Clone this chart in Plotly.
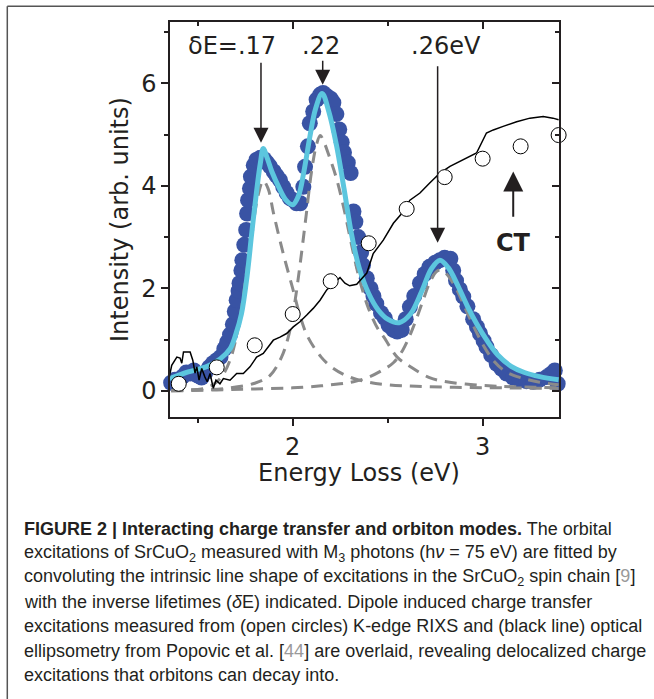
import plotly.graph_objects as go

# ---------------- data ----------------
# RIXS data (blue filled circles)
rixs_x = [1.36, 1.38, 1.40, 1.42, 1.44, 1.46, 1.48, 1.50, 1.52, 1.54, 1.56, 1.58, 1.60, 1.62, 1.64,
          1.655, 1.67, 1.685, 1.695, 1.705, 1.715, 1.72, 1.73, 1.735, 1.745, 1.755, 1.76, 1.765, 1.775,
          1.78, 1.795, 1.81, 1.83, 1.85, 1.865, 1.88, 1.90, 1.915, 1.933, 1.95, 1.968, 1.985, 2.003,
          2.02, 2.04, 2.056, 2.065, 2.08, 2.09, 2.108, 2.126, 2.145, 2.16, 2.18, 2.20, 2.214, 2.23,
          2.245, 2.258, 2.27, 2.29, 2.305, 2.32, 2.33, 2.345, 2.36, 2.37, 2.39, 2.41, 2.425, 2.44,
          2.465, 2.485, 2.505, 2.53, 2.55, 2.574, 2.595, 2.617, 2.64, 2.67, 2.695, 2.72, 2.75, 2.775,
          2.80, 2.83, 2.845, 2.86, 2.88, 2.898, 2.92, 2.95, 2.97, 2.986, 3.005, 3.02, 3.045, 3.074,
          3.10, 3.126, 3.16, 3.196, 3.23, 3.266, 3.30, 3.337, 3.36, 3.38, 3.395]
rixs_y = [0.16, 0.22, 0.20, 0.28, 0.36, 0.34, 0.40, 0.30, 0.26, 0.36, 0.46, 0.54, 0.60, 0.66, 0.82,
          0.95, 1.10, 1.30, 1.55, 1.77, 1.95, 2.10, 2.35, 2.55, 2.85, 3.14, 3.46, 3.72, 3.95,
          4.18, 4.40, 4.51, 4.55, 4.52, 4.45, 4.38, 4.28, 4.20, 4.11, 3.98, 3.86, 3.76, 3.72,
          3.66, 3.66, 3.98, 4.37, 4.77, 5.22, 5.45, 5.68, 5.78, 5.81, 5.75, 5.70, 5.62, 5.40,
          5.10, 4.85, 4.65, 4.45, 4.25, 3.50, 3.30, 3.00, 2.70, 2.45, 2.20, 2.00, 1.85, 1.70,
          1.52, 1.42, 1.28, 1.19, 1.16, 1.19, 1.40, 1.64, 1.85, 2.10, 2.28, 2.42, 2.50, 2.55,
          2.60, 2.58, 2.35, 2.15, 1.98, 1.84, 1.65, 1.40, 1.25, 1.12, 0.98, 0.86, 0.70, 0.53,
          0.43, 0.34, 0.26, 0.21, 0.19, 0.18, 0.22, 0.27, 0.33, 0.40, 0.14]

# total fit (cyan line)
fit_x = [1.352, 1.45, 1.55, 1.62, 1.67, 1.70, 1.73, 1.76, 1.785, 1.81, 1.83, 1.845, 1.865, 1.89,
         1.93, 1.965, 2.00, 2.03, 2.06, 2.09, 2.12, 2.155, 2.19, 2.23, 2.27, 2.31, 2.35, 2.40,
         2.45, 2.50, 2.56, 2.62, 2.68, 2.73, 2.775, 2.82, 2.87, 2.92, 2.97, 3.02, 3.08, 3.15,
         3.22, 3.30, 3.40]
fit_y = [0.24, 0.37, 0.48, 0.63, 0.82, 1.10, 1.50, 2.25, 3.10, 3.90, 4.45, 4.73, 4.55, 4.28,
         3.95, 3.72, 3.63, 3.80, 4.30, 4.95, 5.50, 5.80, 5.45, 4.80, 3.95, 3.05, 2.40, 1.90,
         1.58, 1.40, 1.33, 1.50, 1.95, 2.38, 2.55, 2.40, 2.05, 1.65, 1.30, 1.00, 0.70, 0.48,
         0.36, 0.28, 0.22]

# fit components (gray dashed)
compA_x = [1.36, 1.45, 1.52, 1.58, 1.63, 1.67, 1.70, 1.73, 1.76, 1.79, 1.82, 1.845, 1.87, 1.90,
           1.95, 2.00, 2.04, 2.08, 2.15, 2.21, 2.30, 2.40, 2.50, 2.65, 2.85, 3.10, 3.40]
compA_y = [0.01, 0.02, 0.04, 0.12, 0.30, 0.60, 1.00, 1.60, 2.40, 3.20, 3.85, 4.10, 3.95, 3.45,
           2.68, 2.00, 1.45, 1.05, 0.66, 0.45, 0.27, 0.17, 0.12, 0.09, 0.07, 0.06, 0.05]
compB_x = [1.36, 1.50, 1.65, 1.80, 1.88, 1.94, 1.98, 2.01, 2.04, 2.07, 2.10, 2.125, 2.145, 2.165,
           2.19, 2.23, 2.27, 2.31, 2.35, 2.40, 2.45, 2.48, 2.55, 2.62, 2.72, 2.81, 2.95, 3.10, 3.40]
compB_y = [0.01, 0.02, 0.05, 0.15, 0.30, 0.65, 1.10, 1.70, 2.50, 3.40, 4.30, 4.80, 4.98, 4.85,
           4.60, 4.15, 3.55, 2.85, 2.20, 1.60, 1.20, 1.05, 0.66, 0.47, 0.26, 0.18, 0.12, 0.09, 0.06]
compC_x = [1.36, 1.60, 1.80, 2.00, 2.15, 2.25, 2.32, 2.40, 2.47, 2.53, 2.58, 2.63, 2.68, 2.72,
           2.755, 2.78, 2.81, 2.86, 2.91, 2.96, 3.01, 3.06, 3.12, 3.20, 3.30, 3.40]
compC_y = [0.00, 0.02, 0.04, 0.06, 0.10, 0.14, 0.18, 0.27, 0.40, 0.55, 0.80, 1.20, 1.70, 2.10,
           2.32, 2.36, 2.28, 2.00, 1.60, 1.20, 0.85, 0.58, 0.38, 0.26, 0.17, 0.12]

# K-edge RIXS (open circles)
kedge_x = [1.40, 1.60, 1.80, 2.00, 2.20, 2.40, 2.60, 2.80, 3.00, 3.20, 3.40]
kedge_y = [0.14, 0.46, 0.89, 1.50, 2.14, 2.88, 3.55, 4.17, 4.53, 4.77, 4.99]

# optical ellipsometry (black line)
opt_x = [1.35, 1.363, 1.39, 1.407, 1.416, 1.425, 1.46, 1.474, 1.486, 1.495, 1.507, 1.521, 1.538,
         1.55, 1.565, 1.582, 1.596, 1.617, 1.635, 1.67, 1.705, 1.74, 1.775, 1.81, 1.845, 1.87,
         1.898, 1.933, 1.968, 2.003, 2.038, 2.074, 2.108, 2.144, 2.179, 2.214, 2.249, 2.275,
         2.30, 2.337, 2.372, 2.39, 2.424, 2.477, 2.53, 2.574, 2.617, 2.67, 2.72, 2.775, 2.828,
         2.898, 2.968, 3.02, 3.056, 3.108, 3.179, 3.249, 3.319, 3.37, 3.40]
opt_y = [0.27, 0.50, 0.66, 0.64, 0.54, 0.76, 0.76, 0.60, 0.35, 0.47, 0.21, 0.44, 0.27,
         0.18, 0.34, 0.05, 0.21, 0.14, 0.24, 0.21, 0.34, 0.34, 0.47, 0.66, 0.73, 0.86,
         0.99, 1.05, 1.12, 1.25, 1.35, 1.48, 1.61, 1.77, 1.97, 2.10, 2.21, 2.10,
         2.05, 2.08, 2.23, 2.30, 2.68, 2.94, 3.27, 3.46, 3.72, 3.86, 4.05, 4.25, 4.38,
         4.51, 4.64, 5.03, 5.09, 5.16, 5.25, 5.32, 5.35, 5.32, 5.29]

x_ticks = [2, 3]
y_ticks = [0, 2, 4, 6]
x_range = [1.354, 3.402]
y_range = [-0.508, 7.195]

peak_labels = ["δE=.17", ".22", ".26eV"]
peak_label_x = [1.678, 2.149, 2.807]
arrow_x = [1.833, 2.158, 2.763]
arrow_tip_y = [4.84, 5.97, 2.89]
arrow_tail_y = [6.43, 6.47, 6.36]

caption_lines = [
    "<b>FIGURE 2 | Interacting charge transfer and orbiton modes.</b> The orbital",
    "excitations of SrCuO<sub>2</sub> measured with M<sub>3</sub> photons (h<i>ν</i> = 75 eV) are fitted by",
    "convoluting the intrinsic line shape of excitations in the SrCuO<sub>2</sub> spin chain [<span style=\"color:#9a9a9a\">9</span>]",
    "with the inverse lifetimes (<i>δ</i>E) indicated. Dipole induced charge transfer",
    "excitations measured from (open circles) K-edge RIXS and (black line) optical",
    "ellipsometry from Popovic et al. [<span style=\"color:#9a9a9a\">44</span>] are overlaid, revealing delocalized charge",
    "excitations that orbitons can decay into.",
]

# ---------------- layout helpers ----------------
W, H = 654, 699
L, R, T, B = 170, 559, 22, 417
TXT = "#231f20"
FONT = "DejaVu Sans"


def px(xp):
    return (xp - L) / (R - L)


def py(yp):
    return (B - yp) / (B - T)


fig = go.Figure()

fig.add_trace(go.Scatter(x=rixs_x, y=rixs_y, mode="markers",
                         marker=dict(size=16, color="#3953a4", line=dict(width=0)),
                         showlegend=False, cliponaxis=False))
for cx, cy in [(compA_x, compA_y), (compB_x, compB_y), (compC_x, compC_y)]:
    fig.add_trace(go.Scatter(x=cx, y=cy, mode="lines", line_shape="spline",
                             line=dict(color="#8a8a8a", width=3, dash="12px,8px"),
                             showlegend=False))
fig.add_trace(go.Scatter(x=fit_x, y=fit_y, mode="lines", line_shape="spline",
                         line=dict(color="#5cc6de", width=5), showlegend=False))
fig.add_trace(go.Scatter(x=opt_x, y=opt_y, mode="lines", line_shape="linear",
                         line=dict(color="#000000", width=1.5), showlegend=False))
fig.add_trace(go.Scatter(x=kedge_x, y=kedge_y, mode="markers",
                         marker=dict(size=15, color="white", line=dict(color="black", width=1)),
                         showlegend=False, cliponaxis=False))

axis_common = dict(showgrid=False, zeroline=False, linecolor=TXT, linewidth=1.5,
                   tickcolor=TXT, tickwidth=1.5, showline=True)

fig.update_layout(
    width=W, height=H,
    margin=dict(l=L, r=W - R, t=T, b=H - B),
    paper_bgcolor="white", plot_bgcolor="white",
    font=dict(family=FONT, color=TXT, size=24),
    xaxis=dict(range=x_range, tickvals=x_ticks, ticks="outside", ticklen=7,
               tickfont=dict(size=24, family=FONT, color=TXT),
               minor=dict(ticks="outside", ticklen=4, tickvals=[1.5, 2.5], tickcolor=TXT, tickwidth=1.5),
               **axis_common),
    yaxis=dict(range=y_range, tickvals=y_ticks, ticks="outside", ticklen=7,
               tickfont=dict(size=24, family=FONT, color=TXT),
               minor=dict(ticks="outside", ticklen=4, tickvals=[1, 3, 5, 7], tickcolor=TXT, tickwidth=1.5),
               **axis_common),
    xaxis2=dict(range=x_range, overlaying="x", side="top", anchor="y", tickvals=x_ticks,
                ticks="inside", ticklen=7, showticklabels=False,
                minor=dict(ticks="inside", ticklen=4, tickvals=[1.5, 2.5], tickcolor=TXT, tickwidth=1.5),
                **axis_common),
    yaxis2=dict(range=y_range, overlaying="y", side="right", anchor="x", tickvals=y_ticks,
                ticks="inside", ticklen=7, showticklabels=False,
                minor=dict(ticks="inside", ticklen=4, tickvals=[1, 3, 5, 7], tickcolor=TXT, tickwidth=1.5),
                **axis_common),
)
# dummy trace to activate secondary axes
fig.add_trace(go.Scatter(x=[None], y=[None], xaxis="x2", yaxis="y2", showlegend=False))

ann = []
# peak labels and arrows
for lab, lx in zip(peak_labels, peak_label_x):
    ann.append(dict(x=lx, y=6.72, xref="x", yref="y", text=lab, showarrow=False,
                    font=dict(size=24, family=FONT, color=TXT), xanchor="center", yanchor="middle"))
for axx, ty, tl in zip(arrow_x, arrow_tip_y, arrow_tail_y):
    ann.append(dict(x=axx, y=ty, ax=axx, ay=tl, xref="x", yref="y", axref="x", ayref="y",
                    text="", showarrow=True, arrowhead=2, arrowsize=2, arrowwidth=1.5,
                    arrowcolor=TXT))
ann.append(dict(x=3.161, y=4.28, ax=3.161, ay=3.37, xref="x", yref="y", axref="x", ayref="y",
                text="", showarrow=True, arrowhead=2, arrowsize=2, arrowwidth=2, arrowcolor=TXT))
ann.append(dict(x=3.161, y=2.89, xref="x", yref="y", text="<b>CT</b>", showarrow=False,
                font=dict(size=24, family=FONT, color=TXT), xanchor="center", yanchor="middle"))

# axis titles
ann.append(dict(x=px(120), y=py(220), xref="paper", yref="paper", text="Intensity (arb. units)",
                textangle=-90, showarrow=False, font=dict(size=24, family=FONT, color=TXT),
                xanchor="center", yanchor="middle"))
ann.append(dict(x=px(359), y=py(473), xref="paper", yref="paper", text="Energy Loss (eV)",
                showarrow=False, font=dict(size=24, family=FONT, color=TXT),
                xanchor="center", yanchor="middle"))

# caption
for i, line in enumerate(caption_lines):
    ann.append(dict(x=px(22), y=py(529 + 24.3 * i), xref="paper", yref="paper", text=line,
                    showarrow=False, font=dict(size=18, family="Liberation Sans", color=TXT),
                    xanchor="left", yanchor="middle", align="left"))

fig.update_layout(annotations=ann)

# figure frame (left and top border)
fig.add_shape(type="line", xref="paper", yref="paper", x0=px(7.3), x1=px(7.3), y0=py(6.3), y1=py(699),
              line=dict(color="#555555", width=1.5))
fig.add_shape(type="line", xref="paper", yref="paper", x0=px(7.3), x1=px(654), y0=py(6.3), y1=py(6.3),
              line=dict(color="#555555", width=1.5))

fig.write_html("out.html")
